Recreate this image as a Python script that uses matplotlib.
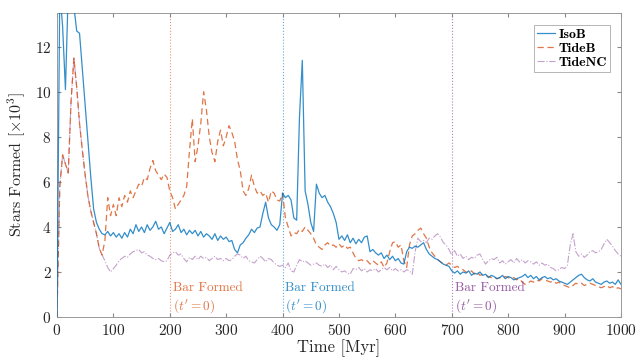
import numpy as np
import matplotlib
matplotlib.use("Agg")
import matplotlib.pyplot as plt

plt.rcParams['font.family'] = 'cmr10'
plt.rcParams['mathtext.fontset'] = 'cm'
plt.rcParams['axes.formatter.use_mathtext'] = True

# time grid, 5 Myr steps
time = np.arange(0, 1001, 5)

iso_b = [
    0.0, 14.5, 12.9, 10.1, 14.5, 14.8, 13.8, 12.7, 12.6, 11.0,
    9.4, 7.8, 6.2, 4.8, 4.2, 3.9, 3.7, 3.65, 3.8, 3.6,
    3.75, 3.55, 3.7, 3.5, 3.75, 3.55, 3.9, 3.7, 4.1, 3.8,
    4.0, 3.75, 4.1, 3.85, 4.0, 4.25, 3.9, 4.0, 3.7, 3.95,
    4.2, 3.8, 3.9, 4.1, 3.75, 3.9, 3.65, 3.85, 3.7, 3.85,
    3.6, 3.8, 3.55, 3.7, 3.6, 3.45, 3.7, 3.4, 3.6, 3.45,
    3.55, 3.35, 3.4, 3.0, 2.85, 3.2, 3.3, 3.5, 3.65, 3.9,
    3.75, 3.95, 4.0, 4.6, 5.1, 4.4, 4.1, 4.0, 3.85, 4.1,
    5.5, 5.3, 5.4, 5.2, 4.4, 4.3, 8.9, 11.4, 5.6, 5.0,
    4.2, 3.8, 5.9, 5.5, 5.3, 5.4, 5.1, 4.9, 4.6, 4.2,
    3.45, 3.6, 3.4, 3.65, 3.3, 3.5, 3.25, 3.45, 3.3, 3.55,
    3.6, 2.9, 3.0, 2.85, 2.75, 2.85, 2.6, 2.75, 2.55, 2.7,
    2.5, 2.6, 2.4, 2.35, 2.9, 3.1, 3.05, 3.15, 3.1, 3.2,
    3.3, 3.0, 2.8, 2.7, 2.6, 2.55, 2.45, 2.35, 2.3, 2.25,
    2.05, 1.95, 2.05, 1.9, 2.0, 1.95, 2.05, 1.85, 1.95, 1.9,
    2.0, 1.85, 1.9, 1.75, 1.85, 1.8, 1.7, 1.75, 1.85, 1.7,
    1.8, 1.75, 1.65, 1.7, 1.75, 1.8, 1.9, 1.75, 1.85, 1.7,
    1.8, 1.65, 1.75, 1.8, 1.7, 1.75, 1.65, 1.7, 1.6, 1.55,
    1.5, 1.45, 1.55, 1.65, 1.75, 1.85, 1.9, 1.75, 1.65, 1.6,
    1.7, 1.55, 1.5, 1.45, 1.55, 1.6, 1.5, 1.55, 1.45, 1.65,
    1.45,
]

tide_b = [
    0.0, 5.8, 7.2, 6.8, 6.4, 9.6, 11.5, 10.2, 8.6, 7.4,
    6.3, 5.35, 4.7, 4.2, 3.7, 3.05, 2.75, 3.4, 5.3, 4.5,
    5.0, 4.5, 5.3, 4.9, 5.4, 5.1, 5.6, 5.3, 5.6, 5.9,
    5.8, 6.2, 6.1, 6.6, 6.95, 6.5, 6.3, 6.1, 6.35, 6.2,
    5.6, 5.3, 4.8, 5.0, 5.2, 5.4, 5.8, 7.4, 8.8, 6.9,
    7.6, 8.6, 10.0, 9.2, 8.0, 7.3, 6.9, 7.8, 8.3, 7.6,
    8.0, 8.5, 8.2, 7.8, 7.0, 6.5, 5.6, 5.4, 5.7, 6.3,
    5.8, 5.5, 5.6, 5.4, 5.5, 5.1, 5.6, 5.5, 5.2, 5.15,
    5.5, 4.4, 4.0, 3.6, 3.75, 3.7, 3.9, 3.8, 4.0, 3.85,
    3.7, 3.5, 3.2, 3.1, 3.0, 3.2, 3.3, 3.15, 3.2, 3.1,
    3.25, 3.1, 3.2, 3.05, 3.1, 2.85, 2.6, 2.5, 2.55, 2.45,
    2.5, 2.35, 2.5, 2.4, 2.3, 2.45, 2.2, 2.4, 2.9, 3.3,
    3.35, 3.1, 3.2, 2.5, 2.2, 3.2, 3.6, 3.7, 3.85, 3.95,
    3.7, 3.5, 3.1, 2.85, 2.7, 2.55, 2.45, 2.35, 2.3, 2.4,
    2.3, 2.2, 2.25, 2.15, 2.1, 2.0, 1.95, 2.05, 1.9, 2.0,
    1.85, 1.9, 1.85, 1.8, 1.75, 1.8, 1.7, 1.75, 1.7, 1.8,
    1.75, 1.7, 1.75, 1.65, 1.7, 1.55, 1.45, 1.5, 1.6, 1.55,
    1.65, 1.6, 1.7, 1.65, 1.6, 1.55, 1.6, 1.5, 1.55, 1.45,
    1.4, 1.35, 1.3, 1.4, 1.5, 1.45, 1.5, 1.4, 1.45, 1.5,
    1.45, 1.4, 1.35, 1.3, 1.35, 1.4, 1.3, 1.35, 1.25, 1.3,
    1.25,
]

tide_nc = [
    0.0, 5.8, 7.2, 6.8, 6.4, 9.6, 11.5, 10.2, 8.6, 7.4,
    6.3, 5.35, 4.7, 4.2, 3.7, 3.05, 2.75, 2.5, 2.2, 2.0,
    2.15, 2.3, 2.5, 2.6, 2.7, 2.65, 2.8, 2.9, 2.95, 3.0,
    2.85, 2.9, 2.75, 2.7, 2.6, 2.55, 2.6, 2.5, 2.45, 2.5,
    2.75, 2.85, 2.9, 2.75, 2.8, 2.6, 2.45, 2.65, 2.55, 2.7,
    2.55, 2.7, 2.6, 2.65, 2.5, 2.6, 2.7, 2.55, 2.6, 2.5,
    2.6, 2.5, 2.55, 2.7, 2.8, 2.75, 2.6, 2.7, 2.5, 2.45,
    2.4, 2.55, 2.7, 2.6, 2.45, 2.6, 2.55, 2.4, 2.3, 2.25,
    2.3, 2.2, 2.4, 2.05, 2.0, 2.3, 2.55, 2.45, 2.5, 2.4,
    2.3, 2.35, 2.4, 2.3, 2.25, 2.35, 2.2, 2.3, 2.1, 2.25,
    2.1, 2.0, 2.05, 1.95, 1.9, 2.15, 2.1, 2.2, 2.05, 2.15,
    2.0, 2.1, 2.05, 2.15, 2.0, 2.1, 2.2, 2.1, 2.2, 2.05,
    2.15, 2.05, 2.1, 2.0, 2.1, 2.05, 1.9, 2.9, 3.5, 3.35,
    3.4, 3.3, 3.5, 3.45, 3.6, 3.7, 3.55, 3.3, 3.2, 3.0,
    2.75, 2.95, 2.7, 2.8, 2.6, 2.7, 2.55, 2.65, 2.6, 2.75,
    2.8, 2.55, 2.35, 2.5, 2.6, 2.55, 2.65, 2.4, 2.5, 2.35,
    2.45, 2.55, 2.4, 2.6, 2.45, 2.55, 2.4, 2.5, 2.45, 2.35,
    2.45, 2.3, 2.4, 2.3, 2.35, 2.2, 2.15, 2.05, 2.1, 2.2,
    2.15, 2.3, 3.2, 3.7, 2.9, 2.7, 2.8, 2.65, 2.75, 2.9,
    2.95, 2.85, 2.9, 3.0, 3.25, 3.45, 3.3, 3.15, 2.95, 2.8,
    2.7,
]

bar_times = [200, 400, 700]

blue = '#0072BD'
orange = '#D95319'
purple = '#7E2F8E'

fig = plt.figure(figsize=(6.38, 3.57), dpi=100)
ax = fig.add_axes([0.0893, 0.112, 0.8840, 0.8515])

ax.plot(time, iso_b, color=blue, lw=0.9, alpha=0.8, label='IsoB', zorder=4)
ax.plot(time, tide_b, color=orange, lw=0.9, ls=(0, (5, 3)), alpha=0.8, label='TideB', zorder=3)
ax.plot(time, tide_nc, color=purple, lw=0.8, ls='-.', alpha=0.45, label='TideNC', zorder=2)

for xb, c in zip(bar_times, [orange, blue, purple]):
    ax.axvline(xb, color=c, ls=':', lw=0.8, alpha=0.6, zorder=1)
    ax.text(xb + 5, 0.08, "Bar Formed\n$(t' = 0)$", color=c, alpha=0.8,
            fontsize=9.5, ha='left', va='bottom', linespacing=1.25)

ax.set_xlim(0, 1000)
ax.set_ylim(0, 13.5)
ax.set_xticks(range(0, 1001, 100))
ax.set_yticks(range(0, 13, 2))
ax.tick_params(direction='in', top=True, right=True, length=3,
               color='#888888', labelsize=11, labelcolor='#262626', pad=4)
for s in ax.spines.values():
    s.set_color('#999999')
    s.set_linewidth(0.7)

ax.set_xlabel('Time [Myr]', fontsize=12, color='#262626', labelpad=1)
ax.set_ylabel(r'Stars Formed $[\times 10^3]$', fontsize=11.5, color='#262626', labelpad=5)

leg = ax.legend(loc='upper right', bbox_to_anchor=(0.993, 0.985), prop={'family': 'cmb10', 'size': 10},
                handlelength=1.3, handletextpad=0.2, borderpad=0.25, labelspacing=0.1,
                fancybox=False, framealpha=1, edgecolor='#aaaaaa')
leg.get_frame().set_linewidth(0.6)

fig.savefig('out.png', dpi=100)
